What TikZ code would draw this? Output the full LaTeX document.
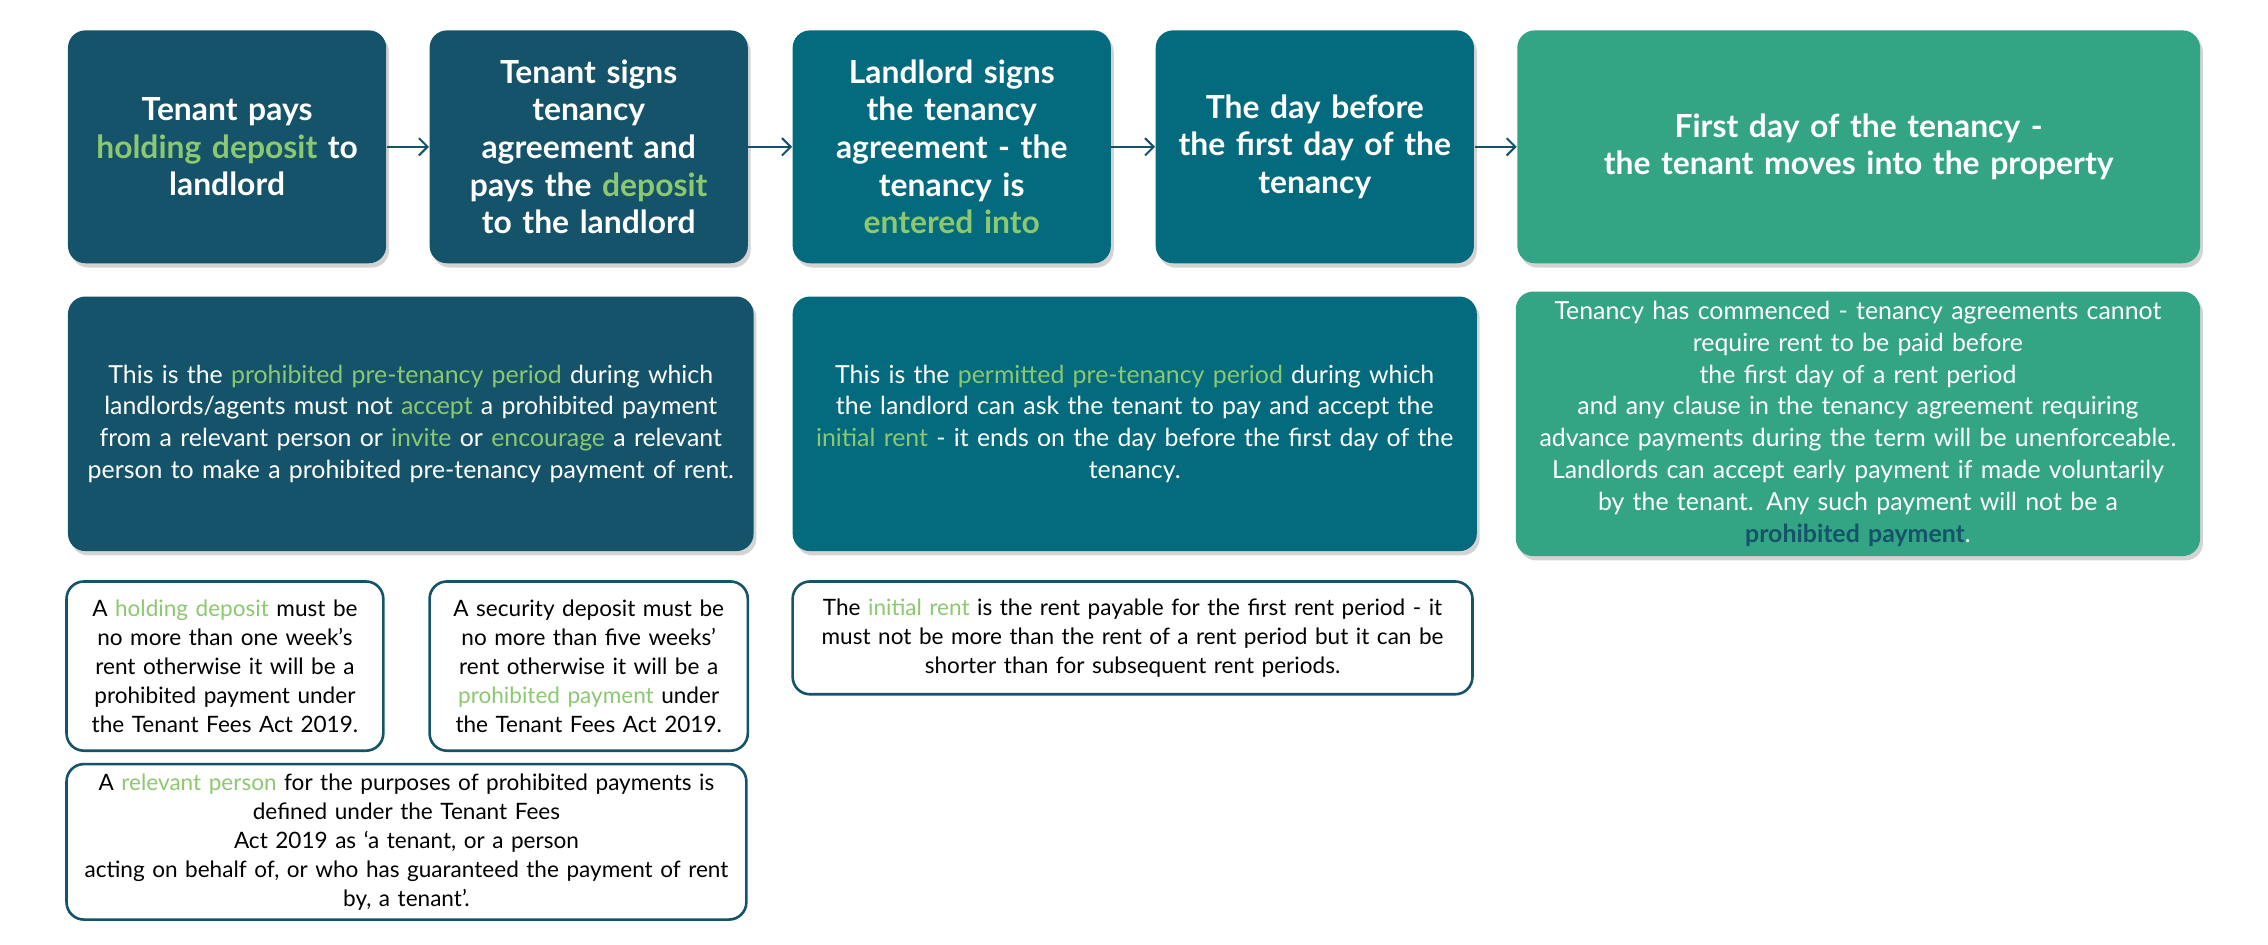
\documentclass[tikz,border=0pt]{standalone}
\usepackage{fontspec}
\setmainfont{Lato}
\usetikzlibrary{shadows,arrows.meta}
\definecolor{navy}{HTML}{14536A}
\definecolor{teal}{HTML}{036B7D}
\definecolor{mint}{HTML}{34A584}
\definecolor{hl}{HTML}{8CC870}
\newcommand\hi[1]{\textcolor{hl}{#1}}
\tikzset{
  stepbox/.style={rounded corners=6pt, text=white, align=center,
    drop shadow={shadow xshift=1pt, shadow yshift=-1.5pt, opacity=0.35},
    font=\fontsize{11}{13}\selectfont\bfseries, inner sep=4pt},
  infobox/.style={rounded corners=6pt, text=white, align=center,
    drop shadow={shadow xshift=1pt, shadow yshift=-1.5pt, opacity=0.35},
    font=\fontsize{8.6}{11}\selectfont},
  notebox/.style={draw=navy, line width=0.9pt, rounded corners=6pt, fill=white,
    align=center, font=\fontsize{7.8}{10}\selectfont},
  flow/.style={navy, line width=0.7pt, -{Straight Barb[length=3pt,width=6pt]}}
}
\begin{document}
\begin{tikzpicture}[x=1pt,y=-1pt]
  \useasboundingbox (0,0) rectangle (784,326.5);

  % top row
  \node[stepbox, fill=navy, minimum width=110pt, minimum height=80.5pt, text width=98pt]
    (pay) at (78.5,50.75) {Tenant pays\\ \hi{holding deposit} to\\ landlord};
  \node[stepbox, fill=navy, minimum width=110pt, minimum height=80.5pt, text width=98pt]
    (sign) at (203.5,50.75) {Tenant signs\\ tenancy\\ agreement and\\ pays the \hi{deposit}\\ to the landlord};
  \node[stepbox, fill=teal, minimum width=110pt, minimum height=80.5pt, text width=98pt]
    (enter) at (329,50.75) {Landlord signs\\ the tenancy\\ agreement - the\\ tenancy is\\ \hi{entered into}};
  \node[stepbox, fill=teal, minimum width=110pt, minimum height=80.5pt, text width=98pt]
    (before) at (454.5,50.75) {The day before\\ the first day of the\\ tenancy};
  \node[stepbox, fill=mint, minimum width=236pt, minimum height=80.5pt, text width=220pt]
    (first) at (642.5,50.75) {First day of the tenancy -\\ the tenant moves into the property};

  \draw[flow] (pay) -- (sign);
  \draw[flow] (sign) -- (enter);
  \draw[flow] (enter) -- (before);
  \draw[flow] (before) -- (first);

  % periods
  \node[infobox, fill=navy, minimum width=237pt, minimum height=88pt, text width=225pt]
    (prohib) at (142,146.5) {This is the \hi{prohibited pre-tenancy period} during which\\
    landlords/agents must not \hi{accept} a prohibited payment\\
    from a relevant person or \hi{invite} or \hi{encourage} a relevant\\
    person to make a prohibited pre-tenancy payment of rent.};
  \node[infobox, fill=teal, minimum width=236.5pt, minimum height=88pt, text width=225pt]
    (permit) at (392.25,146.5) {This is the \hi{permitted pre-tenancy period} during which\\
    the landlord can ask the tenant to pay and accept the\\
    \hi{initial rent} - it ends on the day before the first day of the\\
    tenancy.};
  \node[infobox, fill=mint, minimum width=236.5pt, minimum height=88pt, text width=225pt]
    (commence) at (642.25,146.5) {Tenancy has commenced - tenancy agreements cannot\\
    require rent to be paid before the first day of a rent period\\
    and any clause in the tenancy agreement requiring\\
    advance payments during the term will be unenforceable.\\
    Landlords can accept early payment if made voluntarily\\
    by the tenant. Any such payment will not be a\\
    \textcolor{navy}{\bfseries prohibited payment}.};

  % notes
  \node[notebox, minimum width=109.5pt, minimum height=58.5pt, text width=100pt]
    (holding) at (77.75,230.25) {A \hi{holding deposit} must be\\ no more than one week's\\
    rent otherwise it will be a\\ prohibited payment under\\ the Tenant Fees Act 2019.};
  \node[notebox, minimum width=110pt, minimum height=58.5pt, text width=100pt]
    (security) at (203.5,230.25) {A security deposit must be\\ no more than five weeks'\\
    rent otherwise it will be a\\ \hi{prohibited payment} under\\ the Tenant Fees Act 2019.};
  \node[notebox, minimum width=235pt, minimum height=39pt, text width=225pt]
    (initial) at (391.5,220.5) {The \hi{initial rent} is the rent payable for the first rent period - it\\
    must not be more than the rent of a rent period but it can be\\
    shorter than for subsequent rent periods.};
  \node[notebox, minimum width=235pt, minimum height=49pt, text width=225pt]
    (relevant) at (140.5,291) {A \hi{relevant person} for the purposes of prohibited payments is\\
    defined under the Tenant Fees Act 2019 as `a tenant, or a person\\
    acting on behalf of, or who has guaranteed the payment of rent\\
    by, a tenant'.};
\end{tikzpicture}
\end{document}
